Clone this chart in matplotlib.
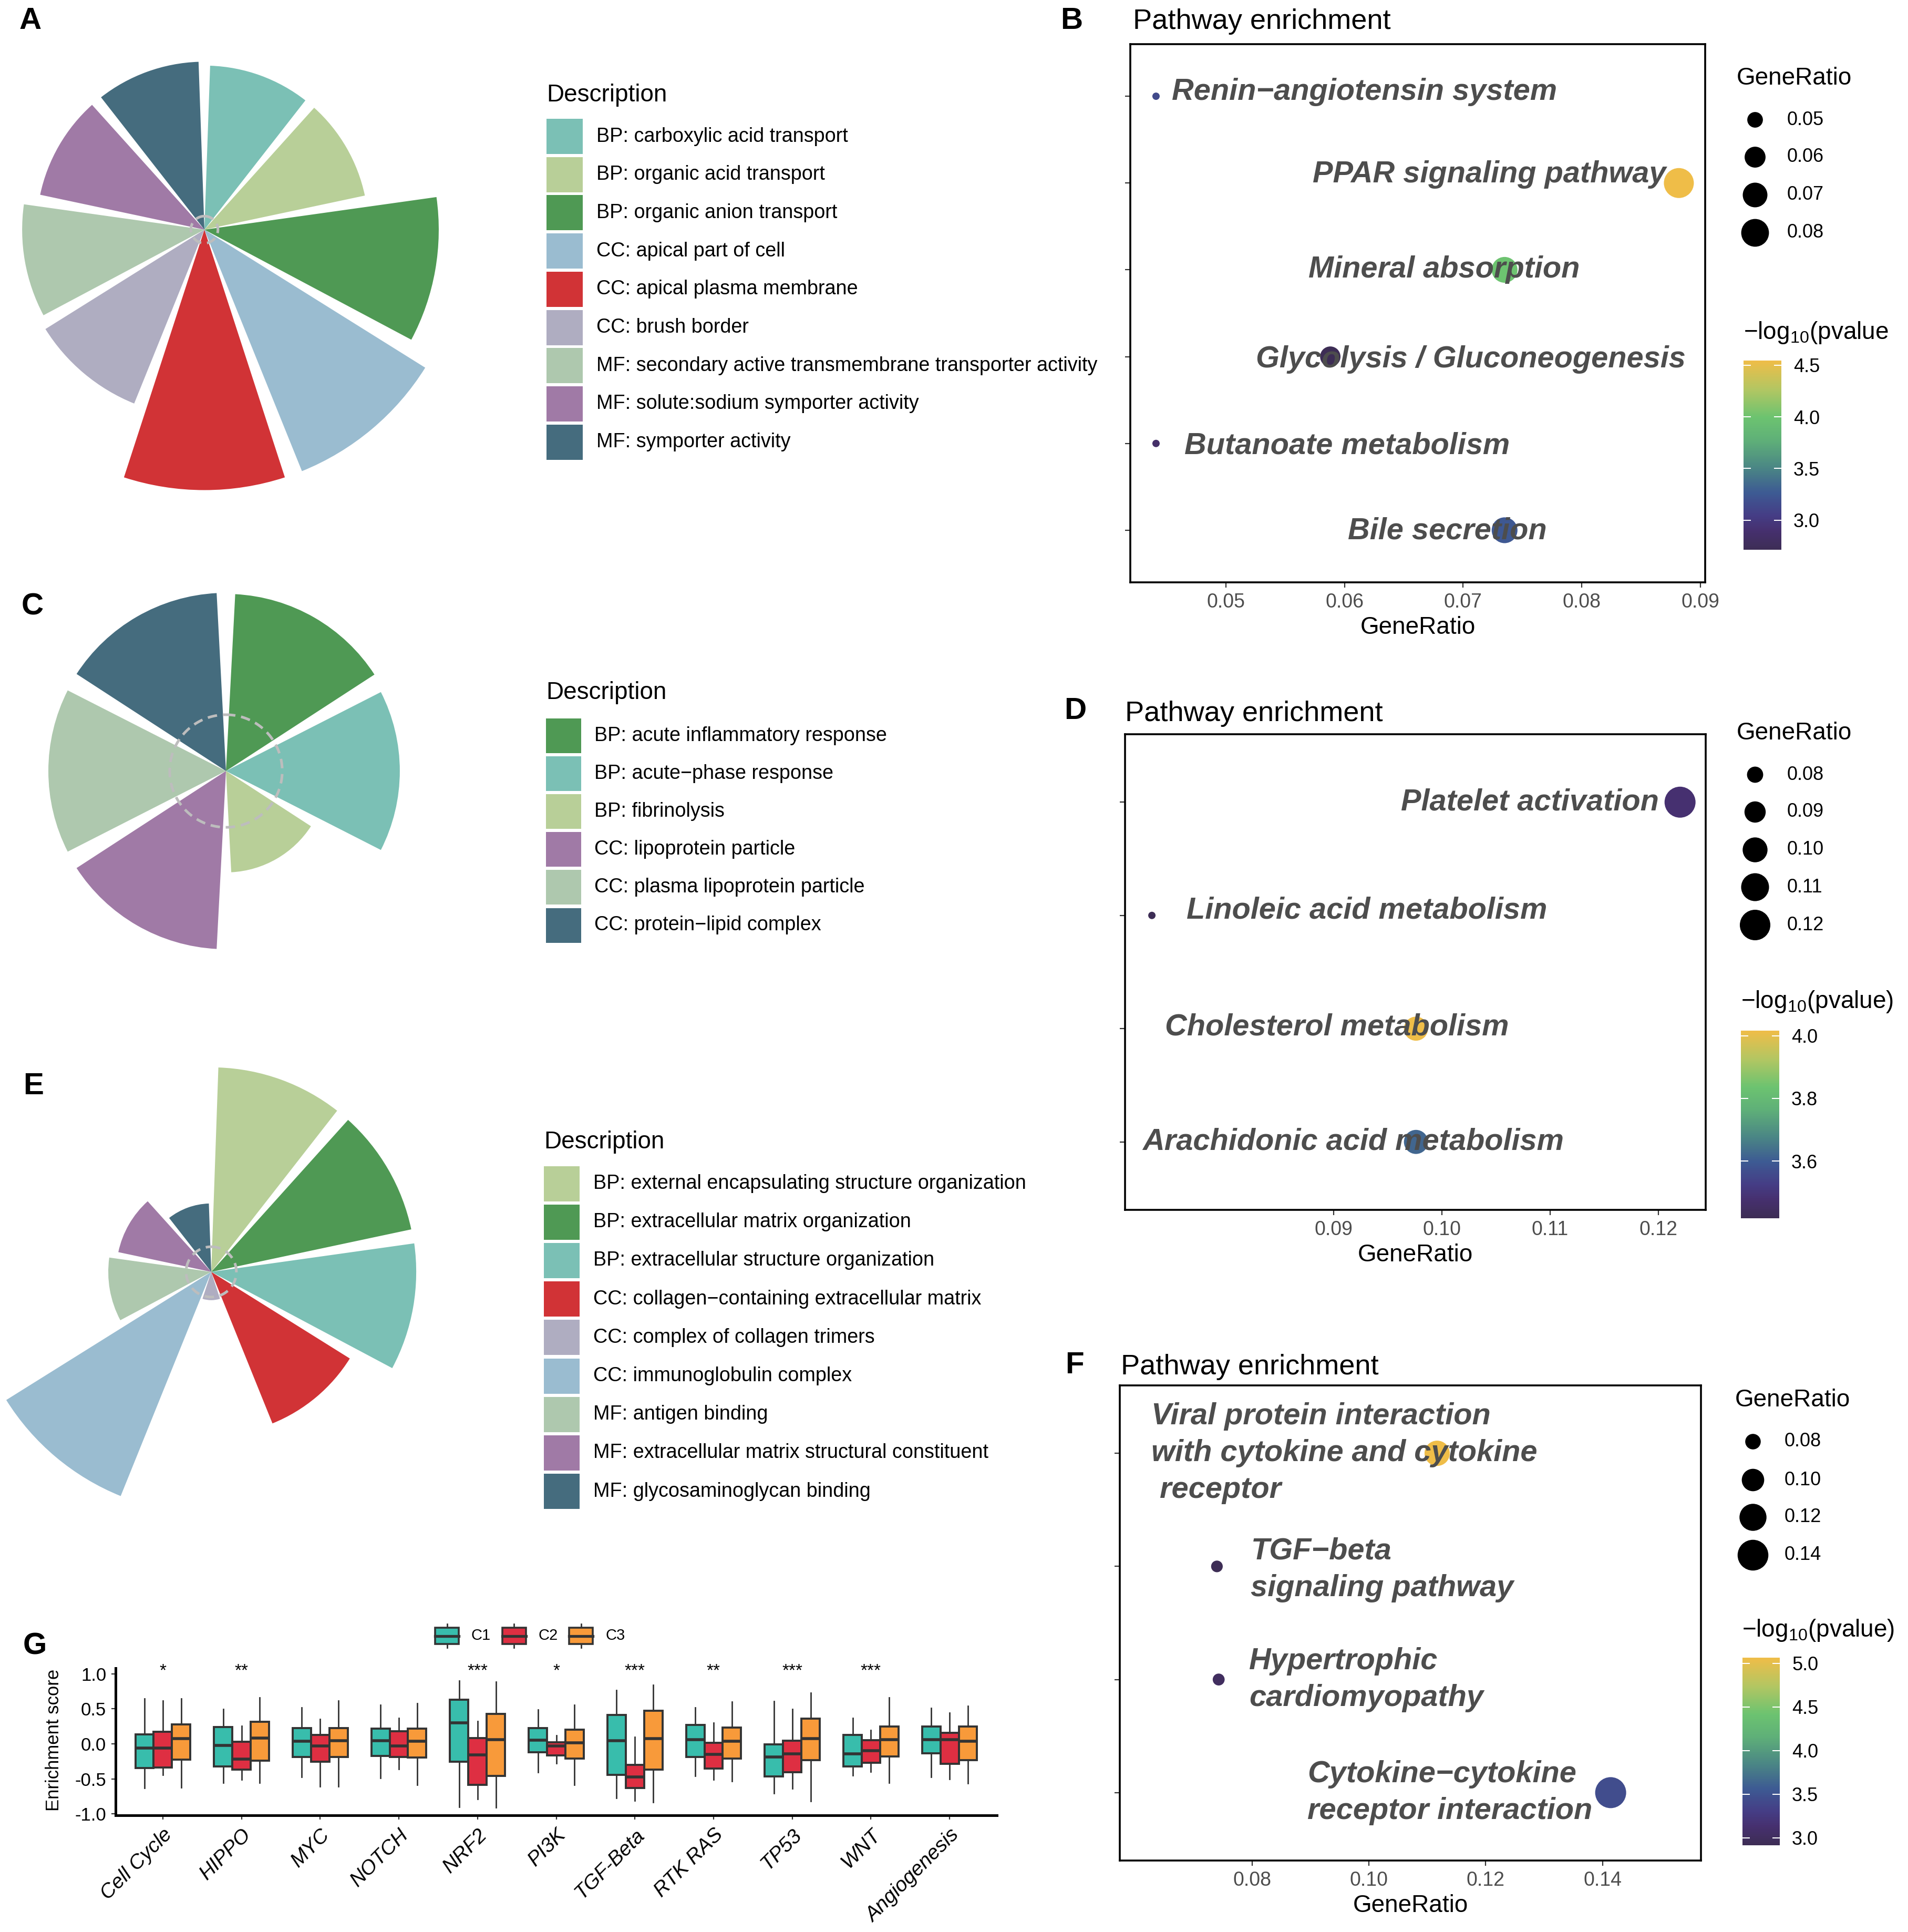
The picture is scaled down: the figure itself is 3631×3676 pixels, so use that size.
import numpy as np
import matplotlib
matplotlib.use("Agg")
import matplotlib.pyplot as plt
from matplotlib.colors import LinearSegmentedColormap, Normalize
from matplotlib.cm import ScalarMappable
from matplotlib.patches import Rectangle

plt.rcParams['font.family'] = ['Liberation Sans', 'DejaVu Sans']
plt.rcParams['mathtext.fontset'] = 'custom'
plt.rcParams['mathtext.rm'] = 'Liberation Sans'
plt.rcParams['mathtext.it'] = 'Liberation Sans:italic'
plt.rcParams['mathtext.bf'] = 'Liberation Sans:bold'

W, H = 3631, 3676
DPI = 200
PT = 72.0 / DPI  # points per pixel

# ---------------- palette ----------------
TEAL = '#7BC0B5'; LGREEN = '#B8CF98'; GREEN = '#4F9954'; LBLUE = '#9ABCD0'
RED = '#D13336'; LAV = '#AFADC1'; PGREEN = '#AEC8AE'; PURPLE = '#A07AA6'; DTEAL = '#456C7E'

# ---------------- data: rose charts ----------------
a_terms = ["BP: carboxylic acid transport", "BP: organic acid transport",
           "BP: organic anion transport", "CC: apical part of cell",
           "CC: apical plasma membrane", "CC: brush border",
           "MF: secondary active transmembrane transporter activity",
           "MF: solute:sodium symporter activity", "MF: symporter activity"]
a_values = [6.3, 6.3, 9.0, 10.0, 10.0, 7.2, 7.0, 6.45, 6.45]
a_colors = [TEAL, LGREEN, GREEN, LBLUE, RED, LAV, PGREEN, PURPLE, DTEAL]
a_ref = 0.52

c_terms = ["BP: acute inflammatory response", "BP: acute\u2212phase response",
           "BP: fibrinolysis", "CC: lipoprotein particle",
           "CC: plasma lipoprotein particle", "CC: protein\u2212lipid complex"]
c_values = [9.94, 9.76, 5.69, 10.0, 9.97, 10.0]
c_colors = [GREEN, TEAL, LGREEN, PURPLE, PGREEN, DTEAL]
c_ref = 3.16

e_terms = ["BP: external encapsulating structure organization",
           "BP: extracellular matrix organization",
           "BP: extracellular structure organization",
           "CC: collagen\u2212containing extracellular matrix",
           "CC: complex of collagen trimers", "CC: immunoglobulin complex",
           "MF: antigen binding", "MF: extracellular matrix structural constituent",
           "MF: glycosaminoglycan binding"]
e_values = [8.46, 8.46, 8.48, 6.76, 1.17, 10.0, 4.26, 3.93, 2.83]
e_colors = [LGREEN, GREEN, TEAL, RED, LAV, LBLUE, PGREEN, PURPLE, DTEAL]
e_ref = 1.04

# ---------------- data: pathway dot plots ----------------
b_paths = ["Renin\u2212angiotensin system", "PPAR signaling pathway", "Mineral absorption",
           "Glycolysis / Gluconeogenesis", "Butanoate metabolism", "Bile secretion"]
b_ratio = [0.0441, 0.0882, 0.0735, 0.0588, 0.0441, 0.0735]
b_logp = [3.15, 4.545, 4.0, 2.714, 2.85, 3.25]
b_size_ticks = [0.05, 0.06, 0.07, 0.08]
b_color_ticks = [3.0, 3.5, 4.0, 4.5]

d_paths = ["Platelet activation", "Linoleic acid metabolism",
           "Cholesterol metabolism", "Arachidonic acid metabolism"]
d_ratio = [0.122, 0.0732, 0.0976, 0.0976]
d_logp = [3.48, 3.418, 4.016, 3.62]
d_size_ticks = [0.08, 0.09, 0.10, 0.11, 0.12]
d_color_ticks = [3.6, 3.8, 4.0]

f_paths = ["Viral protein interaction\nwith cytokine and cytokine\n receptor",
           "TGF\u2212beta\nsignaling pathway", "Hypertrophic\ncardiomyopathy",
           "Cytokine\u2212cytokine\nreceptor interaction"]
f_ratio = [0.1117, 0.0740, 0.0743, 0.1414]
f_logp = [5.065, 2.914, 3.0, 3.45]
f_size_ticks = [0.08, 0.10, 0.12, 0.14]
f_color_ticks = [3.0, 3.5, 4.0, 4.5, 5.0]

# ---------------- data: boxplot (whislo, q1, median, q3, whishi) ----------------
g_paths = ["Cell Cycle", "HIPPO", "MYC", "NOTCH", "NRF2", "PI3K", "TGF-Beta",
           "RTK RAS", "TP53", "WNT", "Angiogenesis"]
g_sig = ["*", "**", "", "", "***", "*", "***", "**", "***", "***", ""]
g_groups = ["C1", "C2", "C3"]
g_c1 = [[-0.632, -0.347, -0.060, 0.134, 0.647],
        [-0.552, -0.326, -0.024, 0.243, 0.496],
        [-0.475, -0.184, 0.036, 0.223, 0.519],
        [-0.490, -0.169, 0.047, 0.217, 0.558],
        [-0.900, -0.252, 0.303, 0.632, 0.900],
        [-0.407, -0.119, 0.053, 0.228, 0.490],
        [-0.772, -0.445, 0.045, 0.412, 0.766],
        [-0.460, -0.187, 0.059, 0.273, 0.519],
        [-0.706, -0.466, -0.184, -0.006, 0.608],
        [-0.451, -0.320, -0.139, 0.131, 0.365],
        [-0.469, -0.134, 0.059, 0.249, 0.510]]
g_c2 = [[-0.445, -0.335, -0.059, 0.169, 0.614],
        [-0.510, -0.365, -0.214, 0.030, 0.252],
        [-0.608, -0.255, -0.030, 0.128, 0.350],
        [-0.362, -0.187, -0.030, 0.178, 0.365],
        [-0.790, -0.582, -0.157, 0.083, 0.320],
        [-0.276, -0.166, -0.030, 0.024, 0.119],
        [-0.807, -0.632, -0.469, -0.303, 0.095],
        [-0.510, -0.350, -0.148, 0.015, 0.303],
        [-0.641, -0.407, -0.142, 0.042, 0.493],
        [-0.400, -0.267, -0.095, 0.056, 0.193],
        [-0.504, -0.282, 0.062, 0.157, 0.445]]
g_c3 = [[-0.623, -0.228, 0.074, 0.279, 0.644],
        [-0.558, -0.243, 0.080, 0.318, 0.662],
        [-0.608, -0.190, 0.047, 0.226, 0.614],
        [-0.585, -0.196, 0.039, 0.217, 0.580],
        [-0.911, -0.460, 0.059, 0.424, 0.884],
        [-0.588, -0.208, 0.015, 0.200, 0.558],
        [-0.831, -0.371, 0.074, 0.475, 0.837],
        [-0.534, -0.208, 0.036, 0.234, 0.599],
        [-0.816, -0.231, 0.077, 0.359, 0.727],
        [-0.552, -0.178, 0.059, 0.246, 0.659],
        [-0.564, -0.231, 0.036, 0.246, 0.540]]
g_colors = ['#38BDAC', '#DE2F42', '#F89A3A']

# ---------------- helpers ----------------
CMAP = LinearSegmentedColormap.from_list('enr', [
    (0.00, '#3D2D55'), (0.10, '#46306F'), (0.18, '#453D85'), (0.30, '#3D5A93'),
    (0.43, '#4A8585'), (0.58, '#5FB078'), (0.70, '#6CC370'), (0.85, '#B3C662'),
    (1.00, '#EFBD48')])

fig = plt.figure(figsize=(W / DPI, H / DPI), dpi=DPI)


def rect_px(x0, y0, x1, y1):
    return [x0 / W, 1 - y1 / H, (x1 - x0) / W, (y1 - y0) / H]


def sizes(x, dom, rng):
    x = np.asarray(x, float)
    t = np.clip((x - dom[0]) / (dom[1] - dom[0]), 0, 1)
    d = rng[0] + (rng[1] - rng[0]) * np.sqrt(t)
    return (d * PT) ** 2


def rose(cx, cy, values, colors, ref, ppu):
    R = max(values) * ppu + 15
    ax = fig.add_axes(rect_px(cx - R, cy - R, cx + R, cy + R), projection='polar')
    n = len(values)
    step = 2 * np.pi / n
    theta = (np.arange(n) + 0.5) * step
    ax.bar(theta, values, width=0.9 * step, color=colors, linewidth=0, zorder=2)
    t = np.linspace(0, 2 * np.pi, 600)
    ax.plot(t, np.full_like(t, ref), ls=(0, (3.6, 2.2)), color='#BDBDBD', lw=1.8, zorder=3)
    ax.set_theta_zero_location('N')
    ax.set_theta_direction(-1)
    ax.set_ylim(0, R / ppu)
    ax.axis('off')


rose(389, 437, a_values, a_colors, a_ref, 49.55)
rose(430, 1467, c_values, c_colors, c_ref, 33.9)
rose(402, 2420, e_values, e_colors, e_ref, 46.0)

LABEL_KW = dict(fontsize=20.8, fontweight='bold', fontstyle='italic', color='#4D4D4D',
                zorder=4, linespacing=1.38, multialignment='left')


def dotplot(box, names, ratio, logp, xlim, xticks, xtl, vlim, cticks, sdom, srange,
            lab_x, lab_dy, lab_ha, cbar_box):
    ax = fig.add_axes(rect_px(*box))
    n = len(names)
    idx = np.arange(n)
    norm = Normalize(*vlim)
    ax.scatter(ratio, idx, s=sizes(ratio, sdom, srange), c=logp, cmap=CMAP, norm=norm,
               edgecolors='none', zorder=3)
    for i in range(n):
        ax.text(lab_x[i], idx[i] + lab_dy[i], names[i], ha=lab_ha, va='center', **LABEL_KW)
    ax.set_xlim(*xlim)
    ax.set_ylim(n - 1 + 0.6, -0.6)
    ax.set_yticks(idx)
    ax.set_yticklabels([])
    ax.set_xticks(xticks)
    ax.set_xticklabels(xtl)
    ax.tick_params(axis='both', length=10 * PT, width=2.2 * PT, color='#333333')
    ax.tick_params(axis='x', labelsize=13.5, labelcolor='#4D4D4D', pad=3.5)
    ax.set_xlabel('GeneRatio', fontsize=16.5, labelpad=3)
    for s in ax.spines.values():
        s.set_linewidth(1.3)
        s.set_color('black')
    cax = fig.add_axes(rect_px(*cbar_box))
    cb = fig.colorbar(ScalarMappable(norm=norm, cmap=CMAP), cax=cax)
    cb.outline.set_visible(False)
    cb.set_ticks(cticks)
    cb.set_ticklabels([f'{t:.1f}' for t in cticks])
    cax.minorticks_off()
    cax.tick_params(which='major', direction='in', length=14 * PT, width=2 * PT,
                    color='white', left=True, right=True, labelleft=False,
                    labelright=True, labelsize=13, pad=23 * PT)
    return ax


dotplot((2151, 84, 3245, 1108), b_paths, b_ratio, b_logp, (0.04193, 0.09042),
        [0.05, 0.06, 0.07, 0.08, 0.09], ['0.05', '0.06', '0.07', '0.08', '0.09'],
        (2.714, 4.545), b_color_ticks, (0.0441, 0.0882), (14, 57),
        [0.06167, 0.07221, 0.06842, 0.07063, 0.06024, 0.06866],
        [-0.05, -0.10, 0.0, 0.03, 0.03, 0.01], 'center', (3318, 686, 3390, 1046))

dotplot((2141, 1397, 3246, 2302), d_paths, d_ratio, d_logp, (0.07072, 0.12437),
        [0.09, 0.10, 0.11, 0.12], ['0.09', '0.10', '0.11', '0.12'],
        (3.418, 4.016), d_color_ticks, (0.0732, 0.122), (14, 59),
        [0.10811, 0.09305, 0.09031, 0.09180],
        [0.0, -0.045, -0.015, 0.0], 'center', (3313, 1961, 3386, 2318))

dotplot((2131, 2636, 3237, 3540), f_paths, f_ratio, f_logp, (0.05737, 0.15686),
        [0.08, 0.10, 0.12, 0.14], ['0.08', '0.10', '0.12', '0.14'],
        (2.914, 5.065), f_color_ticks, (0.0717, 0.1414), (14, 59),
        [0.06276, 0.07981, 0.07954, 0.0895],
        [0.0, 0.03, 0.0, 0.0], 'left', (3316, 3154, 3387, 3511))

# ---------------- G boxplot ----------------
axg = fig.add_axes(rect_px(220, 3174, 1897, 3454))
xs = np.arange(1, len(g_paths) + 1)
for j, data in enumerate([g_c1, g_c2, g_c3]):
    stats = [dict(whislo=s[0], q1=s[1], med=s[2], q3=s[3], whishi=s[4], label='')
             for s in data]
    axg.bxp(stats, positions=xs + (j - 1) * 0.233, widths=0.233, patch_artist=True,
            showfliers=False, showcaps=False, manage_ticks=False,
            boxprops=dict(facecolor=g_colors[j], edgecolor='#333333', linewidth=1.4),
            medianprops=dict(color='#333333', linewidth=2.0),
            whiskerprops=dict(color='#333333', linewidth=1.0))
for x, s in zip(xs, g_sig):
    if s:
        axg.text(x, 1.035, s, ha='center', va='center', fontsize=12)
axg.set_xlim(0.4, 11.6)
axg.set_ylim(-1.02, 1.08)
axg.set_xticks(xs)
axg.set_xticklabels(g_paths, rotation=45, ha='right', va='top', fontstyle='italic',
                    fontsize=14, rotation_mode='anchor')
axg.set_yticks([-1.0, -0.5, 0.0, 0.5, 1.0])
axg.set_yticklabels(['-1.0', '-0.5', '0.0', '0.5', '1.0'], fontsize=12.5)
axg.tick_params(axis='both', length=8 * PT, width=2.2 * PT, color='#333333')
axg.tick_params(axis='x', pad=4)
for side in ['top', 'right']:
    axg.spines[side].set_visible(False)
for side in ['left', 'bottom']:
    axg.spines[side].set_linewidth(1.8)
    axg.spines[side].set_color('black')

# ---------------- overlay: titles, legends, letters ----------------
ov = fig.add_axes([0, 0, 1, 1])
ov.set_xlim(0, W)
ov.set_ylim(H, 0)
ov.axis('off')

for letter, x, y in [('A', 37, 40), ('B', 2018, 40), ('C', 41, 1155), ('D', 2025, 1353),
                     ('E', 44, 2067), ('F', 2027, 2598), ('G', 44, 3133)]:
    ov.text(x, y, letter, fontsize=21, fontweight='bold', ha='left', va='center')

for x, y in [(2156, 41), (2141, 1358), (2133, 2601)]:
    ov.text(x, y, 'Pathway enrichment', fontsize=19.5, ha='left', va='center')


def desc_legend(xk, y_title, y_first, spacing, terms, colors, kw, kh, xt):
    ov.text(xk, y_title, 'Description', fontsize=16.5, ha='left', va='center')
    for k, (t, c) in enumerate(zip(terms, colors)):
        yc = y_first + k * spacing
        ov.add_patch(Rectangle((xk, yc - kh / 2), kw, kh, facecolor=c, edgecolor='none'))
        ov.text(xt, yc, t, fontsize=13.6, ha='left', va='center')


desc_legend(1040, 181, 259.5, 72.7, a_terms, a_colors, 69, 67, 1135)
desc_legend(1039, 1318, 1400, 72.1, c_terms, c_colors, 67, 66, 1131)
desc_legend(1035, 2173, 2252, 73.2, e_terms, e_colors, 68, 67, 1129)


def size_legend(tx, ty, dot_x, lab_x, rows, vals, dom, rng):
    ov.text(tx, ty, 'GeneRatio', fontsize=16.5, ha='left', va='center')
    ov.scatter([dot_x] * len(vals), rows, s=sizes(vals, dom, rng), c='black',
               edgecolors='none')
    for r, v in zip(rows, vals):
        ov.text(lab_x, r, f'{v:.2f}', fontsize=13, ha='left', va='center')


size_legend(3305, 149, 3340, 3401, [228, 299, 371, 443], b_size_ticks, (0.0441, 0.0882), (14, 57))
size_legend(3305, 1395, 3340, 3401, [1474, 1545, 1617, 1688, 1760], d_size_ticks, (0.0732, 0.122), (14, 59))
size_legend(3302, 2664, 3336, 3396, [2743, 2816, 2887, 2959], f_size_ticks, (0.0717, 0.1414), (14, 59))

ov.text(3318, 633, r'$-\mathrm{log}_{10}$(pvalue', fontsize=16.5, ha='left', va='center')
ov.text(3313, 1906, r'$-\mathrm{log}_{10}$(pvalue)', fontsize=16.5, ha='left', va='center')
ov.text(3315, 3102, r'$-\mathrm{log}_{10}$(pvalue)', fontsize=16.5, ha='left', va='center')

# boxplot legend
for j, (lab, col) in enumerate(zip(g_groups, g_colors)):
    x0 = 828 + j * 127.5
    ov.plot([x0 + 22.5, x0 + 22.5], [3090, 3135], color='#333333', lw=1.0, zorder=1)
    ov.add_patch(Rectangle((x0, 3097), 45, 31, facecolor=col, edgecolor='#333333',
                           linewidth=1.3, zorder=2))
    ov.plot([x0, x0 + 45], [3112.5, 3112.5], color='#333333', lw=1.9, zorder=3)
    ov.text(x0 + 69, 3112.5, lab, fontsize=10.5, ha='left', va='center')

ov.text(103, 3311, 'Enrichment score', fontsize=12.5, rotation=90, ha='center', va='center')

fig.savefig('out.png', dpi=DPI)
